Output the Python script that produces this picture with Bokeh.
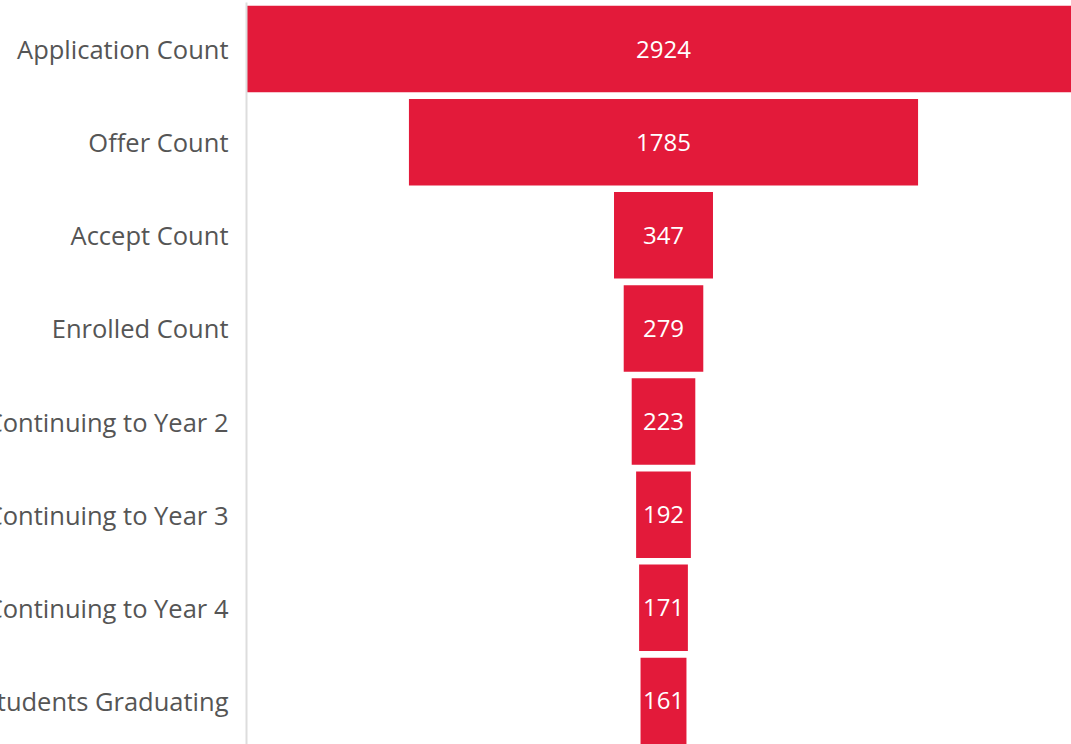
from bokeh.plotting import figure
from bokeh.models import ColumnDataSource, FactorRange, Range1d
from bokeh.core.properties import value
from bokeh.embed import file_html
from bokeh.resources import INLINE

stages = ["Application Count", "Offer Count", "Accept Count", "Enrolled Count",
          "Continuing to Year 2", "Continuing to Year 3", "Continuing to Year 4",
          "Students Graduating"]
counts = [2924, 1785, 347, 279, 223, 192, 171, 161]

BAR_COLOR = "#E31A3A"
FONT = "Open Sans"

half = [c / 2 for c in counts]
source = ColumnDataSource(dict(
    stage=stages,
    left=[-h for h in half],
    right=half,
    center=[0] * len(counts),
    label=[str(c) for c in counts],
))

p = figure(
    y_range=FactorRange(factors=list(reversed(stages))),
    x_range=Range1d(-max(counts) / 2, max(counts) / 2),
    frame_width=834, frame_height=745,
    min_border_left=300, min_border_top=0, min_border_right=0, min_border_bottom=0,
    x_axis_location=None,
    output_backend="svg", toolbar_location=None,
    margin=(2, 0, 0, -54),
)

p.hbar(y="stage", left="left", right="right", height=0.93, source=source,
       fill_color=BAR_COLOR, line_color=None)
p.text(x="center", y="stage", text="label", source=source,
       text_align="center", text_baseline="middle",
       text_color="white", text_font=value(FONT), text_font_size="24px")

p.outline_line_color = None
p.xgrid.grid_line_color = None
p.ygrid.grid_line_color = None
p.background_fill_color = "white"
p.border_fill_color = "white"

ax = p.yaxis[0]
ax.axis_line_color = "#dddddd"
ax.axis_line_width = 2
ax.major_tick_line_color = None
ax.minor_tick_line_color = None
ax.major_tick_out = 0
ax.major_label_standoff = 18
ax.major_label_text_font = FONT
ax.major_label_text_font_size = "25.5px"
ax.major_label_text_color = "#555555"

open("out.html", "w").write(file_html(p, INLINE))
